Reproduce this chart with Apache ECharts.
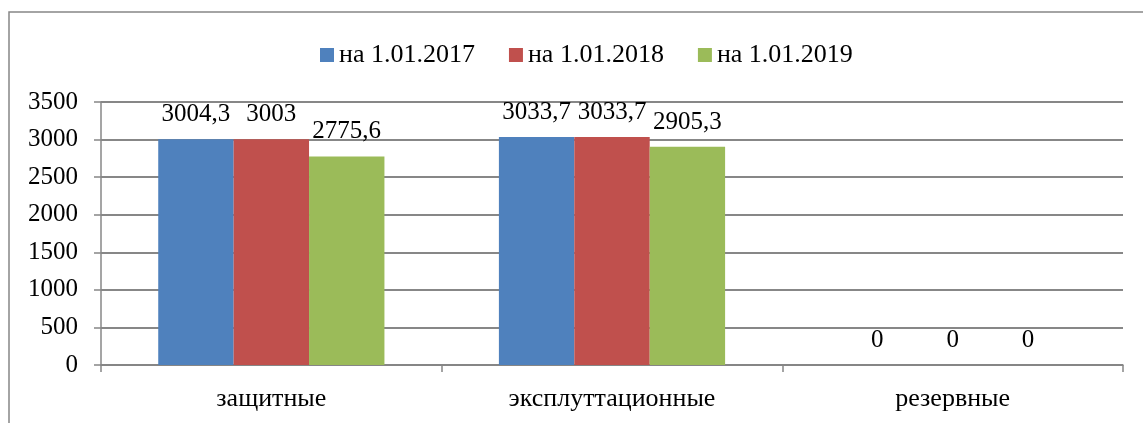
<!DOCTYPE html>
<html>
<head>
<meta charset="utf-8">
<script src="https://cdn.jsdelivr.net/npm/echarts@6/dist/echarts.min.js"></script>
<style>
    html, body { margin: 0; padding: 0; background: #fff; }
    #chart { width: 1143px; height: 423px; }
</style>
</head>
<body>
<div id="chart"></div>
<script>
    // data
    var categories = ['защитные', 'эксплуттационные', 'резервные']
    var seriesNames = ['на 1.01.2017', 'на 1.01.2018', 'на 1.01.2019']
    var values2017 = [3004.3, 3033.7, 0]
    var values2018 = [3003, 3033.7, 0]
    var values2019 = [2775.6, 2905.3, 0]
    var colors = ['#4F81BD', '#C0504D', '#9BBB59']

    var font = 'Liberation Serif'
    var gray = '#878787'

    // decimal comma, as in the source
    function fmt (v) {
        return String(v).replace('.', ',')
    }

    var seriesData = [values2017, values2018, values2019]
    var series = seriesData.map(function (vals, i) {
        return {
            name: seriesNames[i],
            type: 'bar',
            data: vals,
            barGap: 0,
            barCategoryGap: '33.6%',
            itemStyle: {color: colors[i]},
            label: {
                show: true,
                position: 'top',
                distance: 12,
                color: '#000',
                fontFamily: font,
                fontSize: 25,
                formatter: function (p) { return fmt(p.value) }
            }
        }
    })

    var option = {
        animation: false,
        backgroundColor: '#fff',
        graphic: [{
            type: 'polyline',
            shape: {points: [[9, 430], [9, 12], [1150, 12]]},
            style: {stroke: gray, lineWidth: 1.5, fill: null}
        }],
        legend: {
            left: 315,
            top: 37,
            itemWidth: 14,
            itemHeight: 14,
            itemGap: 34,
            icon: 'rect',
            textStyle: {fontFamily: font, fontSize: 26, color: '#000'},
            data: seriesNames
        },
        grid: {left: 101, right: 20, top: 102, bottom: 58, containLabel: false},
        xAxis: {
            type: 'category',
            data: categories,
            axisLine: {lineStyle: {color: gray, width: 1.5}},
            axisTick: {show: true, length: 7, lineStyle: {color: gray, width: 1.5}},
            axisLabel: {fontFamily: font, fontSize: 26, color: '#000', margin: 21}
        },
        yAxis: {
            type: 'value',
            min: 0,
            max: 3500,
            interval: 500,
            axisLine: {show: true, lineStyle: {color: gray, width: 1.5}},
            axisTick: {show: true, length: 7, lineStyle: {color: gray, width: 1.5}},
            splitLine: {lineStyle: {color: gray, width: 2}},
            axisLabel: {
                fontFamily: font, fontSize: 25, color: '#000', margin: 23,
                formatter: function (v) { return String(v) }
            }
        },
        series: series
    }

    var chart = echarts.init(document.getElementById('chart'))
    chart.setOption(option)
</script>
</body>
</html>
